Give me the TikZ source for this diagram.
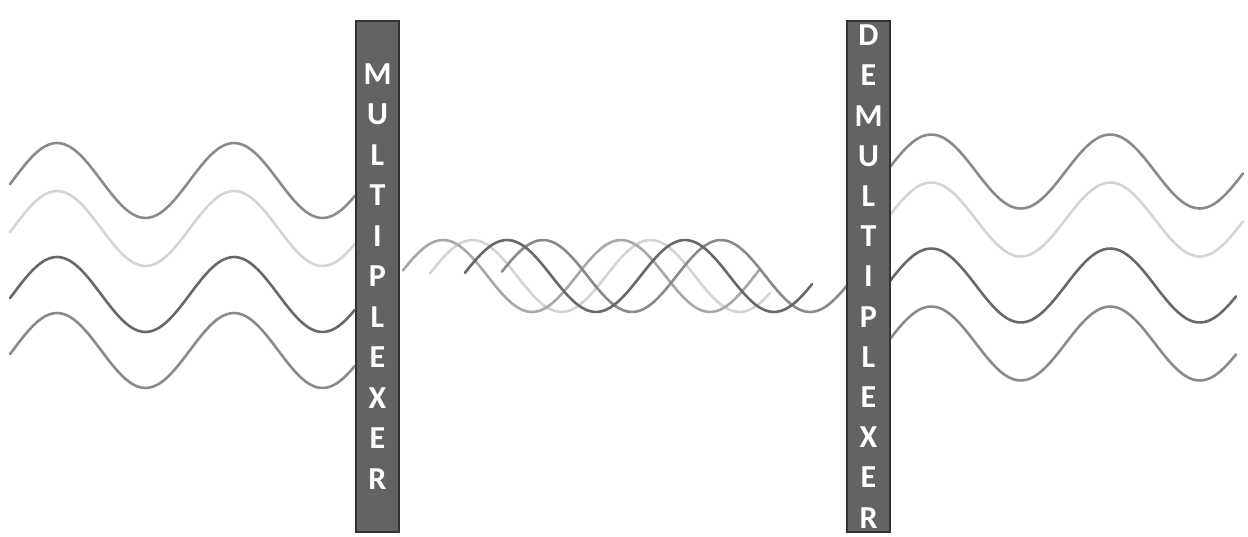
\documentclass[tikz,border=0pt]{standalone}
\usepackage{fontspec}
\setmainfont{Carlito}
\definecolor{barfill}{HTML}{636363}
\definecolor{barline}{HTML}{333333}
\definecolor{wmid}{HTML}{8A8A8A}
\definecolor{wlight}{HTML}{D4D4D4}
\definecolor{wdark}{HTML}{686868}
\definecolor{wpale}{HTML}{A8A8A8}
\begin{document}
\begin{tikzpicture}[
  x=1pt, y=-1pt,
  wave/.style={line width=2.6pt, line cap=round},
  muxbar/.style={rectangle, draw=barline, fill=barfill, line width=1.6pt,
    minimum width=43pt, inner sep=0pt, align=center, text=white,
    font=\fontsize{32}{40.5}\selectfont\bfseries}
]
  \useasboundingbox (0,0) rectangle (1248,537);

  % input channels
  \draw[wave, wmid]   plot[domain=10:355, samples=90, smooth] (\x, {180.5-37.5*sin((\x-12.75)/177*360)});
  \draw[wave, wlight] plot[domain=10:355, samples=90, smooth] (\x, {228.5-37.5*sin((\x-12.75)/177*360)});
  \draw[wave, wdark]  plot[domain=10:355, samples=90, smooth] (\x, {294.5-37.5*sin((\x-12.75)/177*360)});
  \draw[wave, wmid]   plot[domain=10:355, samples=90, smooth] (\x, {350.5-37.5*sin((\x-12.75)/177*360)});

  % shared link
  \draw[wave, wlight] plot[domain=430:770, samples=90, smooth] (\x, {276-36*sin((\x-428)/178*360)});
  \draw[wave, wpale]  plot[domain=403:760, samples=90, smooth] (\x, {276-36*sin((\x-398.5)/178*360)});
  \draw[wave, wmid]   plot[domain=502:848, samples=90, smooth] (\x, {276-36*sin((\x-498.5)/178*360)});
  \draw[wave, wdark]  plot[domain=465:812, samples=90, smooth] (\x, {276-36*sin((\x-462.5)/178*360)});

  % output channels
  \draw[wave, wmid]   plot[domain=890:1243, samples=90, smooth] (\x, {171.5-37*sin((\x-886.5)/179*360)});
  \draw[wave, wlight] plot[domain=890:1243, samples=90, smooth] (\x, {219.5-37*sin((\x-886.5)/179*360)});
  \draw[wave, wdark]  plot[domain=890:1236, samples=90, smooth] (\x, {285.5-37*sin((\x-886.5)/179*360)});
  \draw[wave, wmid]   plot[domain=890:1236, samples=90, smooth] (\x, {343.5-37*sin((\x-886.5)/179*360)});

  \node[muxbar, minimum height=511pt] (mux) at (377.5, 276.5)
    {M\\U\\L\\T\\I\\P\\L\\E\\X\\E\\R};
  \node[muxbar, minimum height=511pt, font=\fontsize{32}{40.2}\selectfont\bfseries] (demux) at (868.5, 276.5)
    {D\\E\\M\\U\\L\\T\\I\\P\\L\\E\\X\\E\\R};
\end{tikzpicture}
\end{document}
